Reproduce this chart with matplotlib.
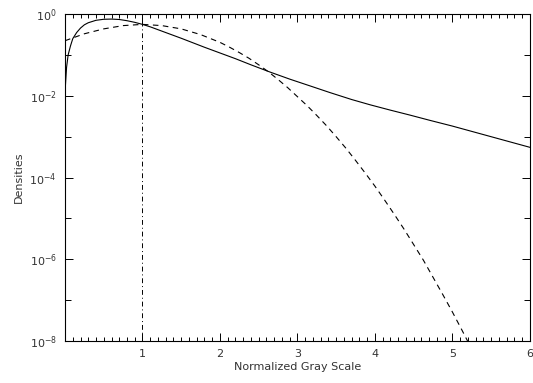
import numpy as np
import matplotlib
matplotlib.use("Agg")
from matplotlib import pyplot as plt
from matplotlib.ticker import FixedLocator, MultipleLocator, FuncFormatter

plt.rcParams['font.family'] = ['DejaVu Sans']
plt.rcParams['mathtext.default'] = 'regular'

# solid curve: (x, log10 density)
solid_x = [0.005, 0.02, 0.04, 0.07, 0.10, 0.15, 0.20, 0.25, 0.30, 0.40, 0.50,
           0.60, 0.70, 0.80, 0.90, 1.00, 1.10, 1.20, 1.30, 1.40, 1.50, 1.65,
           1.80, 2.00, 2.20, 2.40, 2.65, 2.90, 3.20, 3.42, 3.70, 3.94, 4.20,
           4.45, 4.71, 5.00, 5.25, 5.50, 5.75, 6.00]
solid_logy = [-1.75, -1.30, -1.00, -0.78, -0.60, -0.45, -0.34, -0.26, -0.21,
              -0.15, -0.125, -0.12, -0.13, -0.16, -0.20, -0.25, -0.31, -0.38,
              -0.45, -0.52, -0.59, -0.70, -0.81, -0.95, -1.09, -1.24, -1.42,
              -1.59, -1.78, -1.92, -2.09, -2.22, -2.35, -2.47, -2.60, -2.74,
              -2.87, -3.00, -3.13, -3.26]

# dashed curve
dashed_x = [0.0, 0.25, 0.5, 0.75, 1.0, 1.25, 1.5, 1.75, 2.0, 2.125, 2.25,
            2.375, 2.5, 2.625, 2.75, 2.875, 3.0, 3.125, 3.25, 3.375, 3.5,
            3.625, 3.75, 3.875, 4.0, 4.125, 4.25, 4.375, 4.5, 4.625, 4.75,
            4.875, 5.0, 5.125, 5.25]
dashed_logy = [-0.65, -0.48, -0.36, -0.28, -0.25, -0.28, -0.36, -0.50, -0.69,
               -0.81, -0.94, -1.08, -1.24, -1.41, -1.60, -1.80, -2.02, -2.24,
               -2.48, -2.73, -3.00, -3.28, -3.58, -3.89, -4.21, -4.55, -4.90,
               -5.26, -5.64, -6.02, -6.44, -6.86, -7.29, -7.74, -8.20]

threshold = 1.0

fig = plt.figure(figsize=(5.33, 3.83), dpi=100)
ax = fig.add_axes([0.122, 0.110, 0.872, 0.853])

ax.plot(solid_x, 10.0 ** np.array(solid_logy), c='k', lw=0.8)
ax.plot(dashed_x, 10.0 ** np.array(dashed_logy), c='k', lw=0.8,
        linestyle=(0, (5, 4)))
ax.axvline(threshold, c='k', lw=0.7, linestyle=(0, (5, 3, 1, 3)))

ax.set_yscale('log')
ax.set_xlim(0, 6)
ax.set_ylim(1e-8, 1)

ax.xaxis.set_major_locator(FixedLocator([1, 2, 3, 4, 5, 6]))
ax.xaxis.set_minor_locator(MultipleLocator(0.1))
ax.yaxis.set_major_locator(FixedLocator([1e-8, 1e-6, 1e-4, 1e-2, 1]))
ax.yaxis.set_minor_locator(FixedLocator([1e-7, 1e-5, 1e-3, 1e-1]))
ax.yaxis.set_major_formatter(FuncFormatter(
    lambda v, _: r'$10^{%d}$' % int(round(np.log10(v)))))
ax.yaxis.set_minor_formatter(FuncFormatter(lambda v, _: ''))
ax.xaxis.set_major_formatter(FuncFormatter(lambda v, _: '%d' % v))

ax.tick_params(which='both', direction='in', top=True, right=True,
               labelsize=8, colors='k', labelcolor='#333333', width=0.7)
ax.tick_params(which='major', length=6, pad=6)
ax.tick_params(which='minor', length=3)
ax.tick_params(axis='y', which='minor', length=4)
for s in ax.spines.values():
    s.set_linewidth(0.8)

ax.set_xlabel('Normalized Gray Scale', fontsize=8, color='#333333', labelpad=2)
ax.set_ylabel('Densities', fontsize=8, color='#333333', labelpad=4)

fig.savefig('out.png', dpi=100)
